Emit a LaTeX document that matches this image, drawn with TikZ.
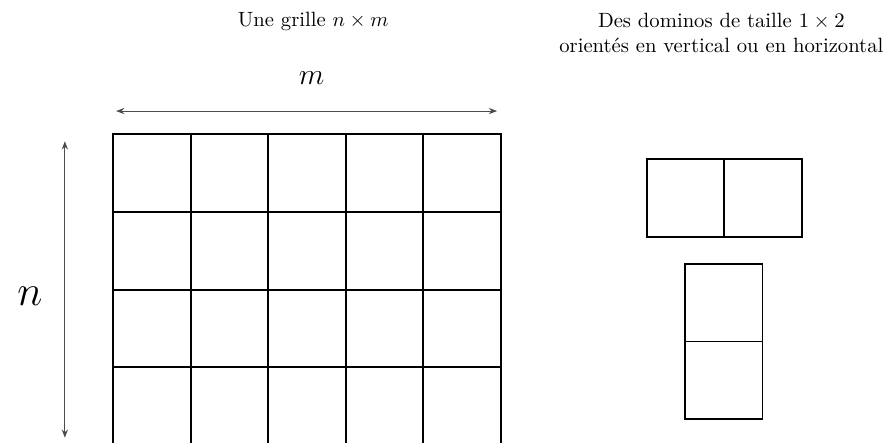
\documentclass[tikz,border=0pt]{standalone}
\usepackage{amsmath,amssymb}
\usetikzlibrary{arrows.meta,positioning}
\begin{document}
\begin{tikzpicture}[x=1.32cm,y=1.32cm,
  cell/.style={line width=0.95pt},
  dim/.style={gray!60!black, line width=0.45pt, {Stealth[length=4pt,width=3pt]}-{Stealth[length=4pt,width=3pt]}}]
\useasboundingbox (-1.456,0.035) rectangle (10.026,5.731);
% la grille n x m
\foreach \i in {0,...,4} {
  \foreach \j in {0,...,3} {
    \draw[cell] (\i,\j) rectangle ++(1,1);
  }
}
\coordinate (mL) at (0.04,4.30);
\coordinate (mR) at (4.95,4.30);
\coordinate (nT) at (-0.62,3.91);
\coordinate (nB) at (-0.62,0.09);
\draw[dim] (mL) -- (mR);
\draw[dim] (nT) -- (nB);
\node (mlab) at (2.56,4.73) {\Large $m$};
\node (nlab) at (-1.07,1.91) {\huge $n$};
\node (titreG) at (2.58,5.45) {Une grille $n \times m$};
% les dominos
\foreach \i in {0,1} {
  \draw[cell] (6.88+\i,2.68) rectangle ++(1,1);
  \draw[cell] (7.37,0.33+\i) rectangle ++(1,1);
}
\node[align=center] (titreD) at (7.84,5.31) {Des dominos de taille $1 \times 2$\\orientés en vertical ou en horizontal};
\end{tikzpicture}
\end{document}
